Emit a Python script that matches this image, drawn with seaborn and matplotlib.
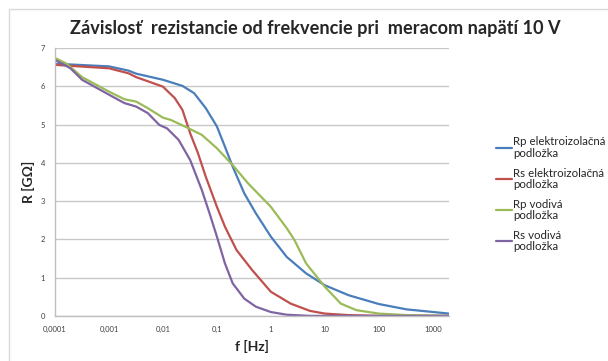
import pandas as pd
import seaborn as sns
import matplotlib.pyplot as plt
from matplotlib.patches import Rectangle

# Series (frequency in Hz, resistance in GOhm)
rp_el_f = [0.0001, 0.001, 0.00229, 0.00318, 0.01, 0.023, 0.0378, 0.062, 0.1, 0.141,
           0.196, 0.322, 0.527, 1, 1.97, 4.5, 10, 27.5, 100, 327, 2000]
rp_el_r = [6.59, 6.52, 6.41, 6.33, 6.17, 6.01, 5.82, 5.43, 4.95, 4.42,
           3.90, 3.20, 2.68, 2.07, 1.54, 1.11, 0.80, 0.54, 0.31, 0.17, 0.06]

rs_el_f = [0.0001, 0.001, 0.00229, 0.00318, 0.01, 0.0166, 0.023, 0.032, 0.0446, 0.062,
           0.1, 0.141, 0.231, 0.448, 1, 2.33, 5.3, 10, 27.5, 100, 2000]
rs_el_r = [6.56, 6.47, 6.34, 6.24, 5.99, 5.69, 5.38, 4.77, 4.25, 3.64,
           2.85, 2.33, 1.72, 1.20, 0.63, 0.32, 0.13, 0.06, 0.02, 0.0, 0.0]

rp_vo_f = [0.0001, 0.000164, 0.000317, 0.001, 0.00194, 0.00318, 0.00522, 0.01, 0.014, 0.0272,
           0.0525, 0.1, 0.196, 0.38, 1, 1.97, 2.74, 4.5, 10, 19.8, 38.3, 100, 327, 2000]
rp_vo_r = [6.74, 6.59, 6.24, 5.86, 5.66, 5.60, 5.43, 5.18, 5.12, 4.93,
           4.73, 4.38, 3.94, 3.46, 2.85, 2.29, 1.98, 1.37, 0.76, 0.32, 0.15, 0.06, 0.02, 0.0]

rs_vo_f = [0.0001, 0.000193, 0.000317, 0.001, 0.00194, 0.00318, 0.00522, 0.00857, 0.0119, 0.0195,
           0.032, 0.0525, 0.073, 0.1, 0.141, 0.196, 0.322, 0.527, 1, 1.97, 5.3, 2000]
rs_vo_r = [6.69, 6.47, 6.17, 5.78, 5.56, 5.47, 5.30, 4.99, 4.90, 4.60,
           4.07, 3.29, 2.68, 2.07, 1.37, 0.85, 0.45, 0.24, 0.10, 0.03, 0.0, 0.0]

labels = ['Rp elektroizolačná\npodložka', 'Rs elektroizolačná\npodložka',
          'Rp vodivá\npodložka', 'Rs vodivá\npodložka']
colors = ['#4A7EBB', '#C0504D', '#9BBB59', '#8064A2']

tick_vals = [0.0001, 0.001, 0.01, 0.1, 1, 10, 100, 1000]
tick_labels = ['0,0001', '0,001', '0,01', '0,1', '1', '10', '100', '1000']

# Build one long DataFrame for seaborn
frames = []
for lab, f, r in zip(labels, [rp_el_f, rs_el_f, rp_vo_f, rs_vo_f],
                     [rp_el_r, rs_el_r, rp_vo_r, rs_vo_r]):
    frames.append(pd.DataFrame({'f': f, 'R': r, 'series': lab}))
df = pd.concat(frames, ignore_index=True)

sns.set_style('white')
plt.rcParams['font.family'] = ['Lato', 'DejaVu Sans']

fig = plt.figure(figsize=(6.08, 3.61), dpi=100)
ax = fig.add_axes([0.0905, 0.125, 0.648, 0.742])

# light frame around the chart area
fig.patches.append(Rectangle((0.015, -0.01), 1.0, 0.985, transform=fig.transFigure,
                             fill=False, edgecolor='#D9D9D9', linewidth=1.0))

sns.lineplot(data=df, x='f', y='R', hue='series', palette=colors, linewidth=1.6,
             sort=True, estimator=None, ax=ax)

ax.set_xscale('log')
ax.set_xlim(0.0001, 2000)
ax.set_ylim(0, 7)
ax.set_xticks(tick_vals)
ax.set_xticklabels(tick_labels)
ax.minorticks_off()
ax.set_yticks(range(0, 8))
ax.tick_params(axis='both', labelsize=5.5, colors='#404040', length=0, pad=7)
ax.yaxis.grid(True, color='#C8C8C8', linewidth=1.0)
ax.xaxis.grid(False)
for s in ['top', 'right']:
    ax.spines[s].set_visible(False)
for s in ['left', 'bottom']:
    ax.spines[s].set_color('#BFBFBF')
    ax.spines[s].set_linewidth(1.0)

ax.set_xlabel('f [Hz]', fontsize=10, fontweight='bold', labelpad=5)
ax.set_ylabel('R [GΩ]', fontsize=10, fontweight='bold', labelpad=4)
fig.suptitle('Závislosť  rezistancie od frekvencie pri  meracom napätí 10 V',
             x=0.519, y=0.945, fontsize=13.1, fontweight='bold')

ax.legend(loc='upper left', bbox_to_anchor=(0.815, 0.622), bbox_transform=fig.transFigure,
          frameon=False, borderpad=0, borderaxespad=0, fontsize=8.3,
          handlelength=1.4, handletextpad=0.1, labelspacing=0.75)
for t in ax.get_legend().get_texts():
    t.set_linespacing(1.05)

fig.savefig('out.png', dpi=100)
